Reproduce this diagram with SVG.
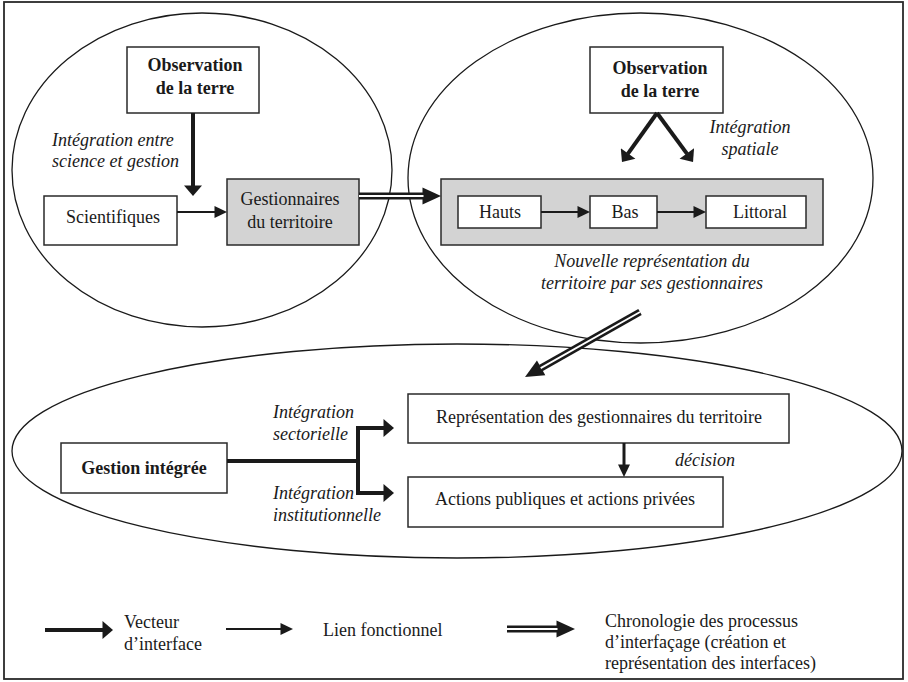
<svg xmlns="http://www.w3.org/2000/svg" width="908" height="682" viewBox="0 0 908 682">
<style>
  text { font-family: "Liberation Serif", "Times New Roman", serif; font-size: 18px; fill: #1a1a1a; }
  .b { font-weight: bold; }
  .i { font-style: italic; }
  .m { text-anchor: middle; }
  .box { fill: #ffffff; stroke: #2a2a2a; stroke-width: 1.5; }
  .gray { fill: #d3d3d3; stroke: #2a2a2a; stroke-width: 1.5; }
  .ell { fill: none; stroke: #1a1a1a; stroke-width: 1.3; }
  .thick { fill: none; stroke: #1a1a1a; stroke-width: 4; marker-end: url(#ahThick); }
  .thin { fill: none; stroke: #1a1a1a; stroke-width: 2; marker-end: url(#ahThin); }
  .med { fill: none; stroke: #1a1a1a; stroke-width: 3; marker-end: url(#ahMed); }
  .dbl { fill: none; stroke: #1a1a1a; stroke-width: 7; marker-end: url(#ahDbl); }
  .dblw { fill: none; stroke: #ffffff; stroke-width: 1.8; }
</style>
<defs>
  <marker id="ahThick" markerUnits="userSpaceOnUse" viewBox="-1 -9 11 18" markerWidth="11" markerHeight="18" refX="0" refY="0" orient="auto">
    <path d="M-0.5,-9 L10,0 L-0.5,9 z" fill="#1a1a1a"/>
  </marker>
  <marker id="ahThin" markerUnits="userSpaceOnUse" viewBox="-1 -6 13 12" markerWidth="13" markerHeight="12" refX="0" refY="0" orient="auto">
    <path d="M-0.5,-6 L12,0 L-0.5,6 z" fill="#1a1a1a"/>
  </marker>
  <marker id="ahMed" markerUnits="userSpaceOnUse" viewBox="-1 -6 13 12" markerWidth="13" markerHeight="12" refX="0" refY="0" orient="auto">
    <path d="M-0.5,-6 L12,0 L-0.5,6 z" fill="#1a1a1a"/>
  </marker>
  <marker id="ahDbl" markerUnits="userSpaceOnUse" viewBox="-1 -9 19 18" markerWidth="19" markerHeight="18" refX="0" refY="0" orient="auto">
    <path d="M-0.5,-8.5 L18,0 L-0.5,8.5 z" fill="#1a1a1a"/>
  </marker>
</defs>

<rect x="4" y="2" width="899" height="677" fill="#ffffff" stroke="#2a2a2a" stroke-width="1.8"/>

<g id="ellipses">
  <ellipse id="ellipse-left" class="ell" cx="202" cy="170" rx="190" ry="157"/>
  <ellipse id="ellipse-right" class="ell" cx="640.5" cy="178" rx="232.5" ry="165"/>
  <ellipse id="ellipse-bottom" class="ell" cx="457" cy="451" rx="445" ry="107"/>
</g>

<g id="node-obs-left">
  <rect class="box" x="127" y="47" width="132" height="66"/>
  <text class="b m" x="195" y="71">Observation</text>
  <text class="b m" x="195" y="94">de la terre</text>
</g>
<g id="label-integration-science">
  <text class="i" x="52" y="146">Intégration entre</text>
  <text class="i" x="52" y="167">science et gestion</text>
</g>
<g id="node-scientifiques">
  <rect class="box" x="44" y="196" width="133" height="49"/>
  <text class="m" x="113" y="223">Scientifiques</text>
</g>
<g id="node-gestionnaires">
  <rect class="gray" x="227" y="179" width="132" height="66"/>
  <text class="m" x="290" y="205">Gestionnaires</text>
  <text class="m" x="290" y="228">du territoire</text>
</g>

<g id="node-obs-right">
  <rect class="box" x="590" y="47" width="133" height="66"/>
  <text class="b m" x="660" y="74">Observation</text>
  <text class="b m" x="660" y="97">de la terre</text>
</g>
<g id="label-integration-spatiale">
  <text class="i m" x="750" y="133">Intégration</text>
  <text class="i m" x="750" y="155">spatiale</text>
</g>
<g id="node-representation-group">
  <rect class="gray" x="441" y="179" width="382" height="66"/>
</g>
<g id="node-hauts">
  <rect class="box" x="458" y="196" width="83" height="32"/>
  <text class="m" x="500" y="218">Hauts</text>
</g>
<g id="node-bas">
  <rect class="box" x="590" y="196" width="67" height="32"/>
  <text class="m" x="625" y="218">Bas</text>
</g>
<g id="node-littoral">
  <rect class="box" x="706" y="196" width="100" height="32"/>
  <text class="m" x="760" y="218">Littoral</text>
</g>
<g id="label-nouvelle">
  <text class="i m" x="652" y="267">Nouvelle représentation du</text>
  <text class="i m" x="652" y="289">territoire par ses gestionnaires</text>
</g>

<g id="node-gestion-integree">
  <rect class="box" x="61" y="443" width="166" height="50"/>
  <text class="b m" x="144" y="474">Gestion intégrée</text>
</g>
<g id="label-sectorielle">
  <text class="i" x="273" y="418">Intégration</text>
  <text class="i" x="273" y="440">sectorielle</text>
</g>
<g id="label-institutionnelle">
  <text class="i" x="273" y="499">Intégration</text>
  <text class="i" x="273" y="521">institutionnelle</text>
</g>
<g id="node-representation-gestionnaires">
  <rect class="box" x="408" y="394" width="381" height="49"/>
  <text class="m" x="599" y="423">Représentation des gestionnaires du territoire</text>
</g>
<g id="node-actions">
  <rect class="box" x="408" y="477" width="315" height="50"/>
  <text class="m" x="565" y="505">Actions publiques et actions privées</text>
</g>
<g id="label-decision">
  <text class="i m" x="705" y="466">décision</text>
</g>

<g id="connectors">
  <path class="thick" d="M193,113 V186"/>
  <path class="thin" d="M177,212 H215"/>
  <path class="dbl" d="M359,196 H423"/>
  <path class="dblw" d="M359,196 H423.5"/>
  <path class="thick" d="M657,113 L627.8,153.9"/>
  <path class="thick" d="M657,113 L687.1,153.9"/>
  <path class="thin" d="M541,212 H578"/>
  <path class="thin" d="M657,212 H694"/>
  <path class="dbl" d="M640,312 L540.7,368.1"/>
  <path class="dblw" d="M640,312 L540.7,368.1"/>
  <path d="M227,461 H358" fill="none" stroke="#1a1a1a" stroke-width="4"/>
  <path class="thick" d="M358,461 V428 H384" stroke-linejoin="miter"/>
  <path class="thick" d="M358,461 V493 H384" stroke-linejoin="miter"/>
  <path class="med" d="M624,443 V465"/>
</g>

<g id="legend">
  <path class="thick" d="M45,630 H103"/>
  <text x="124" y="628">Vecteur</text>
  <text x="124" y="650">d’interface</text>
  <path class="thin" d="M226,629 H281"/>
  <text x="323" y="636">Lien fonctionnel</text>
  <path class="dbl" d="M507,629 H557"/>
  <path class="dblw" d="M507,629 H557.5"/>
  <text x="605" y="627">Chronologie des processus</text>
  <text x="605" y="648">d’interfaçage (création et</text>
  <text x="605" y="669">représentation des interfaces)</text>
</g>
</svg>
